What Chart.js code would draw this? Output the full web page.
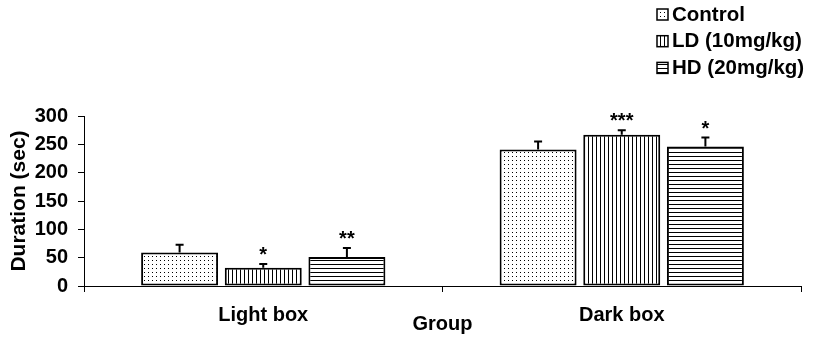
<!DOCTYPE html>
<html>
<head>
<meta charset="utf-8">
<script src="https://cdn.jsdelivr.net/npm/chart.js@4"></script>
<style>
  html, body { margin: 0; padding: 0; background: #fff; }
  #wrap { width: 820px; height: 343px; }
</style>
</head>
<body>
<div id="wrap"><canvas id="chart" width="820" height="343"></canvas></div>
<script>
// data
const categories = ['Light box', 'Dark box'];
const seriesNames = ['Control', 'LD (10mg/kg)', 'HD (20mg/kg)'];
const controlValues = [59, 241];
const controlErrors = [14, 14];
const ldValues = [32, 267];
const ldErrors = [7, 8];
const hdValues = [51, 246];
const hdErrors = [16, 16];
const controlStars = ['', ''];
const ldStars = ['*', '***'];
const hdStars = ['**', '*'];
const yTicks = [0, 50, 100, 150, 200, 250, 300];

const FONT = '"Liberation Sans", Arial, sans-serif';

// fill patterns like the old excel-style hatching
function makePattern(kind) {
    const c = document.createElement('canvas');
    c.width = 4; c.height = 4;
    const g = c.getContext('2d');
    g.fillStyle = '#fff';
    g.fillRect(0, 0, 4, 4);
    g.fillStyle = '#000';
    if (kind === 'dots') {
        g.fillRect(0, 0, 1, 1);
    } else if (kind === 'vlines') {
        g.fillRect(0, 0, 1, 4);
    } else {
        g.fillRect(0, 0, 4, 1);
    }
    return g.createPattern(c, 'repeat');
}

const patterns = [makePattern('dots'), makePattern('vlines'), makePattern('hlines')];
const errors = [controlErrors, ldErrors, hdErrors];
const stars = [controlStars, ldStars, hdStars];

const errorBars = {
    id: 'errorBars',
    afterDatasetsDraw(chart) {
        const ctx = chart.ctx;
        const y = chart.scales.y;
        ctx.save();
        ctx.strokeStyle = '#000';
        ctx.fillStyle = '#000';
        ctx.lineWidth = 2;
        chart.data.datasets.forEach((ds, i) => {
            chart.getDatasetMeta(i).data.forEach((bar, j) => {
                const top = y.getPixelForValue(ds.data[j] + errors[i][j]);
                ctx.beginPath();
                ctx.moveTo(bar.x, bar.y);
                ctx.lineTo(bar.x, top);
                ctx.moveTo(bar.x - 4, top);
                ctx.lineTo(bar.x + 4, top);
                ctx.stroke();
                if (stars[i][j]) {
                    ctx.font = 'bold 20px ' + FONT;
                    ctx.textAlign = 'center';
                    ctx.textBaseline = 'alphabetic';
                    ctx.fillText(stars[i][j], bar.x, top - 3);
                }
            });
        });
        ctx.restore();
    }
};

// vertical legend in the top right corner
const cornerLegend = {
    id: 'cornerLegend',
    afterDraw(chart) {
        const ctx = chart.ctx;
        ctx.save();
        ctx.font = 'bold 20.5px ' + FONT;
        ctx.textBaseline = 'middle';
        ctx.textAlign = 'left';
        chart.data.datasets.forEach((ds, i) => {
            const cy = 14 + i * 26.7;
            ctx.fillStyle = patterns[i];
            ctx.fillRect(657, cy - 5, 11, 11);
            ctx.strokeStyle = '#000';
            ctx.lineWidth = 1.5;
            ctx.strokeRect(657, cy - 5, 11, 11);
            ctx.fillStyle = '#000';
            ctx.fillText(ds.label, 672, cy + 1);
        });
        ctx.restore();
    }
};

function makeDataset(label, values, idx) {
    return {
        label: label,
        data: values,
        backgroundColor: patterns[idx],
        borderColor: '#000',
        borderWidth: 2,
        borderSkipped: false,
        categoryPercentage: 0.70,
        barPercentage: 0.92
    };
}

new Chart(document.getElementById('chart'), {
    type: 'bar',
    data: {
        labels: categories,
        datasets: [
            makeDataset(seriesNames[0], controlValues, 0),
            makeDataset(seriesNames[1], ldValues, 1),
            makeDataset(seriesNames[2], hdValues, 2)
        ]
    },
    options: {
        responsive: false,
        animation: false,
        layout: { padding: { top: 116, right: 19, left: 0, bottom: 0 } },
        plugins: {
            legend: { display: false },
            tooltip: { enabled: false }
        },
        scales: {
            x: {
                afterFit: (s) => { s.height = 57; },
                grid: { drawOnChartArea: false, color: '#000', tickLength: 6, offset: true },
                border: { color: '#000', width: 1 },
                ticks: { color: '#000', padding: 11, font: { family: FONT, size: 20, weight: 'bold' } },
                title: {
                    display: true, text: 'Group', color: '#000',
                    padding: { top: 0, bottom: 7 },
                    font: { family: FONT, size: 20, weight: 'bold' }
                }
            },
            y: {
                min: 0,
                max: 300,
                afterFit: (s) => { s.width = 84; },
                afterBuildTicks: (s) => { s.ticks = yTicks.map(v => ({ value: v })); },
                grid: { drawOnChartArea: false, color: '#000', tickLength: 6 },
                border: { color: '#000', width: 1 },
                ticks: { color: '#000', padding: 10, font: { family: FONT, size: 20, weight: 'bold' } },
                title: {
                    display: true, text: 'Duration (sec)', color: '#000',
                    padding: { top: 7, bottom: 0 },
                    font: { family: FONT, size: 21, weight: 'bold' }
                }
            }
        }
    },
    plugins: [errorBars, cornerLegend]
});
</script>
</body>
</html>
